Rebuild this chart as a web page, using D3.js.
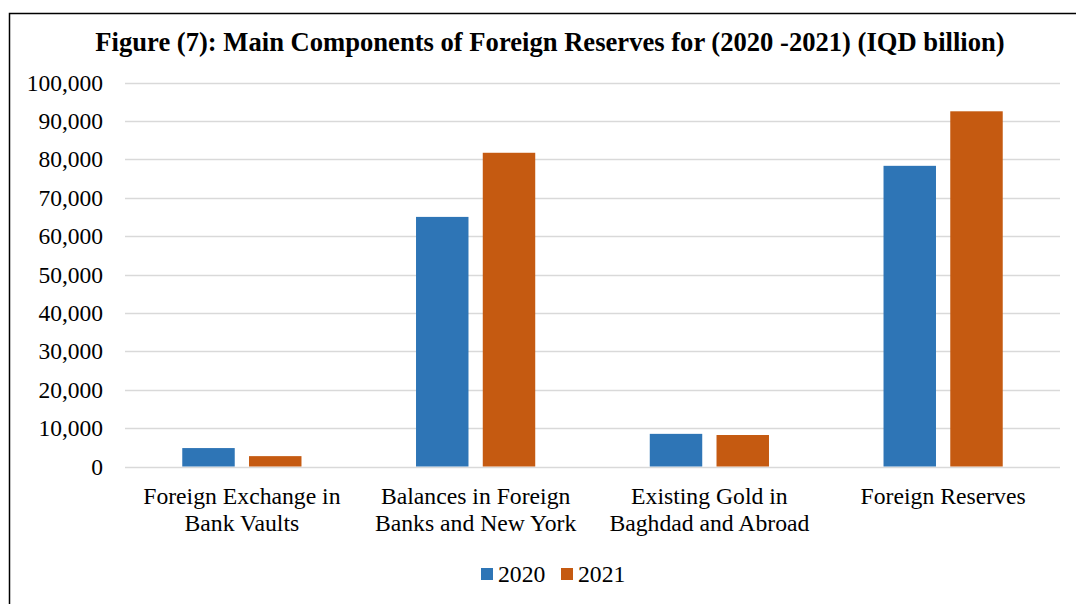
<!DOCTYPE html>
<html>
<head>
<meta charset="utf-8">
<script src="https://cdn.jsdelivr.net/npm/d3@7"></script>
<style>
  html, body { margin: 0; padding: 0; background: #fff; }
  svg { display: block; }
  text { font-family: "Liberation Serif", "Times New Roman", serif; fill: #000; }
</style>
</head>
<body>
<svg id="chart" width="1076" height="604"></svg>
<script>
// Main components of foreign reserves, IQD billion
const categories = [
  ["Foreign Exchange in", "Bank Vaults"],
  ["Balances in Foreign", "Banks and New York"],
  ["Existing Gold in", "Baghdad and Abroad"],
  ["Foreign Reserves"]
];
const years = ["2020", "2021"];
const values2020 = [4800, 65000, 8500, 78300];
const values2021 = [2700, 81700, 8200, 92500];
const yTicks = [0, 10000, 20000, 30000, 40000, 50000, 60000, 70000, 80000, 90000, 100000];
const colors = { "2020": "#2E75B6", "2021": "#C55A11" };

const svg = d3.select("#chart");

// frame around the chart area
svg.append("rect")
  .attr("x", 9.5).attr("y", 13.5)
  .attr("width", 1100).attr("height", 620)
  .attr("fill", "none").attr("stroke", "#000").attr("stroke-width", 1.5);

const plot = { left: 125, right: 1060, top: 82.5, bottom: 466.5 };

const y = d3.scaleLinear().domain([0, 100000]).range([plot.bottom, plot.top]);
const catIdx = categories.map((d, i) => i);
const x0 = d3.scaleBand().domain(catIdx).range([plot.left, plot.right])
  .paddingInner(0.49).paddingOuter(0.245);
const x1 = d3.scaleBand().domain(years).range([0, x0.bandwidth()])
  .paddingInner(0.214).paddingOuter(0);

// title
svg.append("text")
  .attr("x", 550).attr("y", 50.5)
  .attr("text-anchor", "middle")
  .style("font-weight", "bold").style("font-size", "26.6px")
  .text("Figure (7): Main Components of Foreign Reserves for (2020 -2021) (IQD billion)");

// gridlines
svg.append("g")
  .selectAll("line").data(yTicks).join("line")
  .attr("x1", plot.left).attr("x2", plot.right)
  .attr("y1", d => Math.round(y(d)) + 0.5).attr("y2", d => Math.round(y(d)) + 0.5)
  .attr("stroke", "#d9d9d9").attr("stroke-width", 1.5);

// y axis labels
const yAxis = d3.axisLeft(y).tickValues(yTicks).tickFormat(d3.format(",")).tickSize(0).tickPadding(0);
const gy = svg.append("g").attr("transform", `translate(103,0)`).call(yAxis);
gy.select(".domain").remove();
gy.selectAll("text")
  .style("font-family", "'Liberation Serif', 'Times New Roman', serif")
  .style("font-size", "23.5px").attr("fill", "#000");

// bars
const rows = catIdx.map(i => ({ i, vals: [
  { year: "2020", v: values2020[i] },
  { year: "2021", v: values2021[i] }
]}));
const groups = svg.append("g").selectAll("g").data(rows).join("g")
  .attr("transform", d => `translate(${x0(d.i)},0)`);
groups.selectAll("rect").data(d => d.vals).join("rect")
  .attr("x", d => x1(d.year))
  .attr("y", d => y(d.v))
  .attr("width", x1.bandwidth())
  .attr("height", d => y(0) - y(d.v))
  .attr("fill", d => colors[d.year]);

// category labels
const xl = svg.append("g");
categories.forEach((lines, i) => {
  const cx = x0(i) + x0.bandwidth() / 2;
  const t = xl.append("text").attr("text-anchor", "middle").style("font-size", "23.7px");
  lines.forEach((ln, k) => {
    t.append("tspan").attr("x", cx).attr("y", 503.5 + k * 27).text(ln);
  });
});

// legend
const legend = svg.append("g");
const legendItems = [
  { year: "2020", x: 481 },
  { year: "2021", x: 561 }
];
legendItems.forEach(it => {
  legend.append("rect").attr("x", it.x).attr("y", 568).attr("width", 12).attr("height", 12)
    .attr("fill", colors[it.year]);
  legend.append("text").attr("x", it.x + 17).attr("y", 582)
    .style("font-size", "23.7px").text(it.year);
});
</script>
</body>
</html>
